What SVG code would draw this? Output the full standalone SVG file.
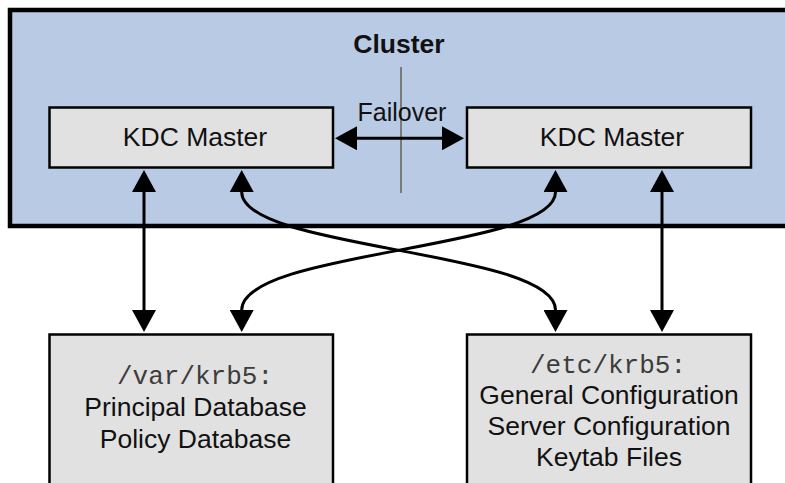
<svg xmlns="http://www.w3.org/2000/svg" width="785" height="483" viewBox="0 0 785 483">
  <style>
    .cluster { fill: #b9cbe4; stroke: #000; stroke-width: 4.5; }
    .box { fill: #e1e1e1; stroke: #000; stroke-width: 2.5; }
    .t { font-family: "Liberation Sans", Arial, sans-serif; font-size: 26.5px; fill: #111; text-anchor: middle; }
    .b { font-weight: bold; }
    .m { font-family: "Liberation Mono", "Courier New", monospace; font-size: 26px; fill: #3c3c3c; text-anchor: middle; }
    .conn { fill: none; stroke: #000; stroke-width: 3; }
    .sep { stroke: #7a7a7a; stroke-width: 2; }
  </style>
  <defs>
    <marker id="ah" markerUnits="userSpaceOnUse" viewBox="0 0 22 24" refX="0" refY="12" markerWidth="22" markerHeight="24" orient="auto-start-reverse">
      <path d="M0,0 L22,12 L0,24 Z" fill="#000"/>
    </marker>
  </defs>

  <g id="cluster">
    <rect class="cluster" x="10" y="10" width="800" height="216"/>
    <text class="t b" x="399" y="53">Cluster</text>
  </g>

  <line class="sep" x1="401" y1="67" x2="401" y2="193"/>

  <g id="kdc-master-left">
    <rect class="box" x="49.5" y="107.5" width="283.5" height="60"/>
    <text class="t" x="195" y="146">KDC Master</text>
  </g>

  <g id="kdc-master-right">
    <rect class="box" x="467" y="107.5" width="284" height="60"/>
    <text class="t" x="612" y="146">KDC Master</text>
  </g>

  <g id="var-krb5">
    <rect class="box" x="49.5" y="334.5" width="283.5" height="170"/>
    <text class="m" x="195" y="384">/var/krb5:</text>
    <text class="t" x="195.5" y="416">Principal Database</text>
    <text class="t" x="195.5" y="448">Policy Database</text>
  </g>

  <g id="etc-krb5">
    <rect class="box" x="467" y="334.5" width="284" height="170"/>
    <text class="m" x="608" y="373">/etc/krb5:</text>
    <text class="t" x="609" y="404">General Configuration</text>
    <text class="t" x="609" y="435">Server Configuration</text>
    <text class="t" x="609" y="466">Keytab Files</text>
  </g>

  <g id="failover-label">
    <text class="t" x="402" y="121" style="font-size:25px">Failover</text>
  </g>

  <g id="connectors">
    <path class="conn" d="M357,138.3 L442,138.3" marker-start="url(#ah)" marker-end="url(#ah)"/>
    <path class="conn" d="M144,192 L144,310" marker-start="url(#ah)" marker-end="url(#ah)"/>
    <path class="conn" d="M662,192 L662,310" marker-start="url(#ah)" marker-end="url(#ah)"/>
    <path class="conn" d="M241.7,192 C241.7,250 555.5,250 555.5,310" marker-start="url(#ah)" marker-end="url(#ah)"/>
    <path class="conn" d="M555.5,192 C555.5,250 241.7,250 241.7,310" marker-start="url(#ah)" marker-end="url(#ah)"/>
  </g>
</svg>
